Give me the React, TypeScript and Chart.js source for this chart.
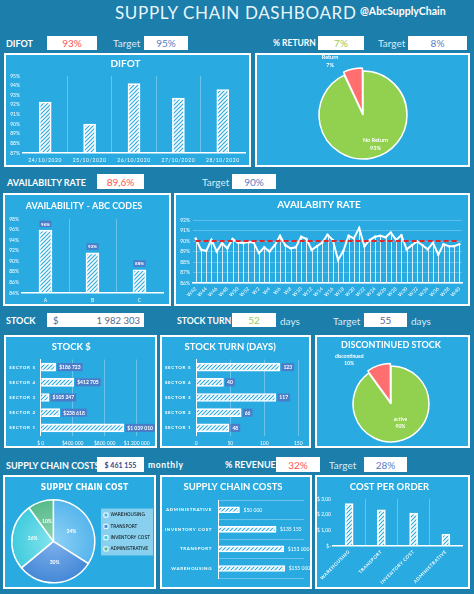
import React, { useEffect, useRef } from 'react';
import { Chart, registerables } from 'chart.js';
Chart.register(...registerables);

const BG = '#1C7EAB';
const PANEL = '#29AAE1';
const FONT = 'Lato, "Open Sans", sans-serif';
const NARROW = '"Liberation Sans Narrow", "DejaVu Sans Condensed", sans-serif';
const GRID = 'rgba(255,255,255,0.3)';
const LABEL_BOX = '#4A7CC8';

// ---------- data ----------
const difotDates = ['24/10/2020', '25/10/2020', '26/10/2020', '27/10/2020', '28/10/2020'];
const difotValues = [92.3, 90.0, 94.2, 92.7, 93.6];

const returnLabels = ['No Return', 'Return'];
const returnShares = [93, 7];

const abcCodes = ['A', 'B', 'C'];
const abcAvailability = [95.9, 91.6, 88.4];

const weeks = ['W42', 'W43', 'W44', 'W45', 'W46', 'W47', 'W48', 'W49', 'W50', 'W51', 'W52', 'W1', 'W2', 'W3', 'W4', 'W5', 'W6', 'W7', 'W8', 'W9', 'W10', 'W11', 'W12', 'W13', 'W14', 'W15', 'W16', 'W17', 'W18', 'W19', 'W20', 'W21', 'W22', 'W23', 'W24', 'W25', 'W26', 'W27', 'W28', 'W29', 'W30', 'W31', 'W32', 'W33', 'W34', 'W35', 'W36', 'W37', 'W38', 'W39', 'W40'];
const weeklyAvailability = [90.25, 89.2, 89.05, 90.1, 89.0, 89.8, 89.3, 90.2, 89.85, 89.8, 89.9, 89.85, 88.85, 89.4, 89.0, 89.6, 90.5, 89.6, 89.3, 89.4, 90.4, 90.2, 89.15, 89.5, 89.85, 90.6, 90.1, 88.2, 89.05, 90.5, 90.25, 91.25, 89.5, 90.1, 90.4, 90.5, 90.35, 90.8, 90.1, 90.55, 89.2, 89.6, 89.95, 89.6, 89.2, 89.85, 88.7, 89.7, 89.5, 89.5, 89.7];
const availabilityTarget = 90;

const sectors = ['SECTOR 5', 'SECTOR 4', 'SECTOR 3', 'SECTOR 2', 'SECTOR 1'];
const stockValue = [186723, 412705, 105247, 238618, 1039010];
const stockTurnDays = [123, 40, 117, 66, 48];

const stockStatus = ['active', 'discontinued'];
const stockStatusShares = [90, 10];

const costTypes = ['WAREHOUSING', 'TRANSPORT', 'INVENTORY COST', 'ADMINISTRATIVE'];
const costShares = [34, 30, 26, 10];
const costBarTypes = ['ADMINISTRATIVE', 'INVENTORY COST', 'TRANSPORT', 'WAREHOUSING'];
const costBarValues = [50000, 135155, 153000, 155000];
const costPerOrder = [2.7, 2.31, 2.1, 0.75];

const costColors = ['#55B4EC', '#4588D6', '#3FCBDD', '#55BA8A'];
const costColorsLight = ['#8FD2F6', '#7DB0EC', '#86E4EE', '#8ED6B2'];

// ---------- helpers ----------
Chart.defaults.font.family = FONT;
Chart.defaults.color = '#fff';

const sp = (n: number) => String(Math.round(n)).replace(/\B(?=(\d{3})+(?!\d))/g, ' ');

function hatch(): CanvasPattern {
  const c = document.createElement('canvas');
  c.width = 4;
  c.height = 4;
  const g = c.getContext('2d')!;
  g.strokeStyle = '#ffffff';
  g.lineWidth = 1.7;
  g.beginPath();
  g.moveTo(0, 4); g.lineTo(4, 0);
  g.moveTo(-1, 1); g.lineTo(1, -1);
  g.moveTo(3, 5); g.lineTo(5, 3);
  g.stroke();
  return g.createPattern(c, 'repeat')!;
}

const tf = (size = 5, bold = false) => ({ size, family: FONT, weight: bold ? 'bold' : 'normal' });
const titleOpt = (text: string, size: number, top: number, bottom: number, family = FONT) => ({
  display: true, text, color: '#fff', font: { size, weight: 'bold', family }, padding: { top, bottom },
});
const basePlugins = (title: any) => ({ legend: { display: false }, tooltip: { enabled: false }, title });
const catGrid = (edges = false) => ({
  display: true, offset: true, drawTicks: false, lineWidth: 1,
  color: (c: any) => (!edges && (c.index === undefined || c.index === 0) ? 'rgba(0,0,0,0)' : GRID),
});

const spacedLabels = (axis: string, spacing: string) => ({
  id: 'spacedLabels_' + axis,
  beforeDraw(chart: any) {
    const s = chart.scales[axis];
    if (!s || s.__spaced) return;
    const orig = s.drawLabels.bind(s);
    s.drawLabels = (area: any) => {
      const ctx = chart.ctx;
      ctx.save();
      ctx.letterSpacing = spacing;
      orig(area);
      ctx.restore();
    };
    s.__spaced = true;
  },
});

const valueLabels = (o: { fmt: (v: number) => string; mode: 'top' | 'right'; box: string | null; size: number; gap: number; padX?: number; padY?: number; bold?: boolean }) => ({
  id: 'valueLabels',
  afterDatasetsDraw(chart: any) {
    const ctx = chart.ctx;
    const meta = chart.getDatasetMeta(0);
    const data = chart.data.datasets[0].data as number[];
    const padX = o.padX ?? 2;
    const h = o.size + 2 * (o.padY ?? 1.5);
    ctx.save();
    ctx.font = `${o.bold === false ? 'normal' : 'bold'} ${o.size}px ${FONT}`;
    ctx.textBaseline = 'middle';
    ctx.textAlign = 'center';
    meta.data.forEach((el: any, i: number) => {
      const t = o.fmt(data[i]);
      const w = ctx.measureText(t).width;
      let cx: number, cy: number;
      if (o.mode === 'top') { cx = el.x; cy = el.y - o.gap - h / 2; }
      else { cx = el.x + o.gap + padX + w / 2; cy = el.y; }
      if (o.box) {
        ctx.fillStyle = o.box;
        ctx.fillRect(cx - w / 2 - padX, cy - h / 2, w + 2 * padX, h);
      }
      ctx.fillStyle = '#fff';
      ctx.fillText(t, cx, cy + 0.3);
    });
    ctx.restore();
  },
});

type PieSpec = { lines: string[]; out?: boolean; rot?: number; k: number; dx?: number; dy?: number };
const pieLabels = (spec: (i: number, label: string, v: number) => PieSpec, size: number) => ({
  id: 'pieLabels',
  afterDatasetsDraw(chart: any) {
    const ctx = chart.ctx;
    const meta = chart.getDatasetMeta(0);
    const data = chart.data.datasets[0].data as number[];
    ctx.save();
    ctx.font = `bold ${size}px ${FONT}`;
    ctx.fillStyle = '#fff';
    ctx.textAlign = 'center';
    ctx.textBaseline = 'middle';
    meta.data.forEach((el: any, i: number) => {
      const p = el.getProps(['x', 'y', 'startAngle', 'endAngle', 'outerRadius'], true);
      const mid = (p.startAngle + p.endAngle) / 2;
      const s = spec(i, chart.data.labels[i], data[i]);
      const ang = mid + (s.rot ?? 0);
      const dist = s.out ? p.outerRadius + s.k : p.outerRadius * s.k;
      const cx = p.x + Math.cos(ang) * dist + (s.dx ?? 0);
      const cy = p.y + Math.sin(ang) * dist + (s.dy ?? 0);
      s.lines.forEach((t, j) => ctx.fillText(t, cx, cy + (j - (s.lines.length - 1) / 2) * (size + 2)));
    });
    ctx.restore();
  },
});

const dropLines = (dsIndex: number) => ({
  id: 'dropLines',
  beforeDatasetsDraw(chart: any) {
    const meta = chart.getDatasetMeta(dsIndex);
    const { ctx, chartArea } = chart;
    ctx.save();
    ctx.strokeStyle = 'rgba(255,255,255,0.8)';
    ctx.lineWidth = 1;
    meta.data.forEach((pt: any) => {
      const x = Math.round(pt.x) + 0.5;
      ctx.beginPath();
      ctx.moveTo(x, pt.y);
      ctx.lineTo(x, chartArea.bottom);
      ctx.stroke();
    });
    ctx.restore();
  },
});

const legendBg = {
  id: 'legendBg',
  beforeDraw(chart: any) {
    const lg = chart.legend;
    if (!lg || !lg.legendHitBoxes || !lg.legendHitBoxes.length) return;
    const hb = lg.legendHitBoxes;
    const x0 = Math.min(...hb.map((h: any) => h.left)) - 3;
    const x1 = Math.max(...hb.map((h: any) => h.left + h.width)) + 3;
    const y0 = hb[0].top - 4;
    const y1 = hb[hb.length - 1].top + hb[hb.length - 1].height + 4;
    const ctx = chart.ctx;
    ctx.save();
    ctx.fillStyle = 'rgba(255,255,255,0.45)';
    ctx.fillRect(x0, y0, x1 - x0, y1 - y0);
    ctx.restore();
  },
};

// ---------- chart configs ----------
const difotConfig = (): any => ({
  type: 'bar',
  data: { labels: difotDates, datasets: [{ data: difotValues, backgroundColor: hatch(), borderColor: '#fff', borderWidth: 1, barThickness: 12 }] },
  options: {
    responsive: false, animation: false,
    layout: { padding: { left: 0, right: 4, top: 0, bottom: 0 } },
    plugins: basePlugins(titleOpt('DIFOT', 10, 3, 6)),
    scales: {
      x: { grid: catGrid(), border: { color: '#fff', width: 1.5 }, ticks: { color: '#fff', font: tf(5), padding: 4, maxRotation: 0, autoSkip: false }, afterFit: (s: any) => { s.height = 12; } },
      y: { min: 87, max: 95, grid: { display: false, drawTicks: false }, border: { display: false }, ticks: { stepSize: 1, color: '#fff', font: tf(5), padding: 3, callback: (v: any) => v + '%' }, afterFit: (s: any) => { s.width = 17; } },
    },
  },
  plugins: [spacedLabels('x', '0.6px')],
});

const returnConfig = (): any => ({
  type: 'pie',
  data: { labels: returnLabels, datasets: [{ data: returnShares, backgroundColor: ['#92D050', '#FF6F6F'], borderColor: '#fff', borderWidth: 1.5, offset: [0, 8] }] },
  options: {
    responsive: false, animation: false, radius: 44,
    layout: { padding: { left: 1, right: 0, top: 10, bottom: 0 } },
    plugins: basePlugins({ display: false }),
  },
  plugins: [pieLabels((i, l, v) => (i === 1
    ? { lines: [l, v + '%'], out: true, k: 19, rot: -0.33 }
    : { lines: [l, v + '%'], k: 0.68, dx: 6 }), 5.5)],
});

const abcConfig = (): any => ({
  type: 'bar',
  data: { labels: abcCodes, datasets: [{ data: abcAvailability, backgroundColor: hatch(), borderColor: '#fff', borderWidth: 1, barThickness: 13 }] },
  options: {
    responsive: false, animation: false,
    layout: { padding: { right: 6 } },
    plugins: basePlugins(titleOpt('AVAILABILITY - ABC CODES', 9, 5.5, 7.7)),
    scales: {
      x: { grid: catGrid(), border: { color: '#fff', width: 1.5 }, ticks: { color: '#fff', font: tf(5), padding: 4 }, afterFit: (s: any) => { s.height = 11; } },
      y: { min: 84, max: 98, grid: { display: false, drawTicks: false }, border: { display: false }, ticks: { stepSize: 2, color: '#fff', font: tf(5), padding: 3, callback: (v: any) => v + '%' }, afterFit: (s: any) => { s.width = 17; } },
    },
  },
  plugins: [valueLabels({ fmt: (v) => Math.round(v) + '%', mode: 'top', box: LABEL_BOX, size: 4.5, gap: 3, padX: 1.5, padY: 1 })],
});

const availConfig = (): any => ({
  type: 'line',
  data: {
    labels: weeks,
    datasets: [
      { data: weeks.map(() => availabilityTarget), borderColor: '#E3262B', borderDash: [5, 3], borderWidth: 2, pointRadius: 0 },
      { data: weeklyAvailability, borderColor: '#fff', borderWidth: 2, pointRadius: 1.2, pointBackgroundColor: '#fff', pointBorderWidth: 0, tension: 0 },
    ],
  },
  options: {
    responsive: false, animation: false,
    layout: { padding: { right: 6 } },
    plugins: basePlugins(titleOpt('AVAILABITY RATE', 10, 4, 9)),
    scales: {
      x: {
        offset: true, grid: { display: false, drawTicks: false }, border: { color: '#fff', width: 1.5 },
        ticks: {
          color: '#fff', font: tf(5), padding: 3, autoSkip: false, minRotation: 45, maxRotation: 45,
          callback: function (this: any, v: any, i: number) { return i % 2 === 0 ? this.getLabelForValue(v) : ''; },
        },
        afterFit: (s: any) => { s.height = 21; },
      },
      y: { min: 86, max: 92, grid: { color: 'rgba(255,255,255,0.25)', drawTicks: false }, border: { display: false }, ticks: { stepSize: 1, color: '#fff', font: tf(5), padding: 3, callback: (v: any) => v + '%' }, afterFit: (s: any) => { s.width = 17; } },
    },
  },
  plugins: [dropLines(1)],
});

const hbarConfig = (title: string, values: number[], max: number, step: number, tick: (v: number) => string, label: (v: number) => string, rightPad: number, yWidth: number): any => ({
  type: 'bar',
  data: { labels: sectors, datasets: [{ data: values, backgroundColor: hatch(), borderColor: '#fff', borderWidth: 1, barThickness: 8 }] },
  options: {
    responsive: false, animation: false, indexAxis: 'y',
    layout: { padding: { right: rightPad } },
    plugins: basePlugins(titleOpt(title, 9.5, 4.3, 6.8)),
    scales: {
      x: { min: 0, max, grid: { color: GRID, drawTicks: false }, border: { display: false }, ticks: { stepSize: step, color: '#fff', font: tf(5), padding: 4.5, callback: (v: any) => tick(v) }, afterFit: (s: any) => { s.height = 10.5; } },
      y: { grid: { display: false, drawTicks: false }, border: { color: '#fff', width: 1 }, ticks: { color: '#fff', font: tf(4.5, true), padding: 5 }, afterFit: (s: any) => { s.width = yWidth; } },
    },
  },
  plugins: [spacedLabels('y', '0.7px'), valueLabels({ fmt: label, mode: 'right', box: LABEL_BOX, size: 5, gap: 1.5, padX: 2, padY: 1.5 })],
});

const discConfig = (): any => ({
  type: 'pie',
  data: { labels: stockStatus, datasets: [{ data: stockStatusShares, backgroundColor: ['#92D050', '#FF6F6F'], borderColor: '#fff', borderWidth: 1.5, offset: [0, 7] }] },
  options: {
    responsive: false, animation: false, radius: 38,
    layout: { padding: { left: 0, right: 3, top: 0, bottom: 0 } },
    plugins: basePlugins(titleOpt('DISCONTINUED STOCK', 9, 3, 11)),
  },
  plugins: [pieLabels((i, l, v) => (i === 1
    ? { lines: [l, v + '%'], out: true, k: 23, rot: -0.44 }
    : { lines: [l, v + '%'], k: 0.55, dx: 3, dy: -1 }), 5)],
});

const sliceFill = (ctx: any) => {
  const chart = ctx.chart;
  const a = chart.chartArea;
  const i = ctx.dataIndex;
  if (!a || i === undefined) return costColors[i ?? 0];
  const cx = (a.left + a.right) / 2;
  const cy = (a.top + a.bottom) / 2;
  const g = chart.ctx.createRadialGradient(cx, cy, 0, cx, cy, 42);
  g.addColorStop(0, costColorsLight[i]);
  g.addColorStop(1, costColors[i]);
  return g;
};

const costPieConfig = (): any => ({
  type: 'pie',
  data: { labels: costTypes, datasets: [{ data: costShares, backgroundColor: sliceFill, borderColor: '#fff', borderWidth: 1.5 }] },
  options: {
    responsive: false, animation: false, radius: 41.5,
    layout: { padding: { left: 4, right: -6, top: 0, bottom: 0 } },
    plugins: {
      tooltip: { enabled: false },
      title: titleOpt('SUPPLY CHAIN COST', 8.5, 5.5, 3, NARROW),
      legend: {
        display: true, position: 'right',
        labels: {
          boxWidth: 4, boxHeight: 4, padding: 6.3, color: '#24507E', font: { size: 5, weight: 'normal', family: NARROW },
          generateLabels: (chart: any) => chart.data.labels.map((l: string, i: number) => ({ text: l, fillStyle: costColors[i], strokeStyle: '#fff', lineWidth: 1, index: i, hidden: false })),
        },
      },
    },
  },
  plugins: [legendBg, pieLabels((i, l, v) => ({ lines: [v + '%'], k: 0.5 }), 5)],
});

const costBarConfig = (): any => ({
  type: 'bar',
  data: { labels: costBarTypes, datasets: [{ data: costBarValues, backgroundColor: hatch(), borderColor: '#fff', borderWidth: 1, barThickness: 6 }] },
  options: {
    responsive: false, animation: false, indexAxis: 'y',
    layout: { padding: { right: 6, bottom: 5 } },
    plugins: basePlugins(titleOpt('SUPPLY CHAIN COSTS', 9.5, 4.3, 7.3)),
    scales: {
      x: { display: false, min: 0, max: 200000 },
      y: { grid: catGrid(true), border: { color: '#fff', width: 1 }, ticks: { color: '#fff', font: tf(4.5, true), padding: 6 }, afterFit: (s: any) => { s.width = 56; } },
    },
  },
  plugins: [spacedLabels('y', '0.6px'), valueLabels({ fmt: (v) => '$' + sp(v), mode: 'right', box: null, size: 5, gap: 4, padX: 0, bold: false })],
});

const cpoConfig = (): any => ({
  type: 'bar',
  data: { labels: costTypes, datasets: [{ data: costPerOrder, backgroundColor: hatch(), borderColor: '#fff', borderWidth: 1, barThickness: 8 }] },
  options: {
    responsive: false, animation: false,
    layout: { padding: { right: 6 } },
    plugins: basePlugins(titleOpt('COST PER ORDER', 9.5, 4.3, 6.3)),
    scales: {
      x: { grid: catGrid(), border: { color: '#fff', width: 1.5 }, ticks: { color: '#fff', font: tf(4.5, true), padding: 3, minRotation: 45, maxRotation: 45, autoSkip: false }, afterFit: (s: any) => { s.height = 41; } },
      y: { min: 0, max: 3, grid: { display: false, drawTicks: false }, border: { display: false }, ticks: { stepSize: 0.5, color: '#fff', font: tf(5), padding: 2, callback: (v: any) => (v === 0 ? '$-' : '$ ' + Number(v).toFixed(2).replace('.', ',')) }, afterFit: (s: any) => { s.width = 16; } },
    },
  },
  plugins: [spacedLabels('x', '0.5px')],
});

// ---------- components ----------
function Panel({ x, y, w, h, make }: { x: number; y: number; w: number; h: number; make: () => any }) {
  const ref = useRef<HTMLCanvasElement | null>(null);
  useEffect(() => {
    const chart = new Chart(ref.current!, make());
    return () => chart.destroy();
  }, []);
  return (
    <div style={{ position: 'absolute', left: x, top: y, width: w, height: h, boxSizing: 'border-box', border: '2px solid #fff', background: PANEL }}>
      <canvas ref={ref} width={w - 4} height={h - 4} style={{ display: 'block', width: w - 4, height: h - 4 }} />
    </div>
  );
}

function Txt({ x, cy, s, b, c, children, ff, ls }: { x: number; cy: number; s: number; b?: boolean; c?: string; children: any; ff?: string; ls?: number }) {
  return (
    <div style={{ position: 'absolute', left: x, top: cy - 8, height: 16, display: 'flex', alignItems: 'center', fontSize: s, fontWeight: b ? 700 : 400, color: c ?? '#fff', whiteSpace: 'nowrap', fontFamily: ff ?? FONT, letterSpacing: ls ?? 0 }}>
      {children}
    </div>
  );
}

function Box({ x, y, w, h, c, s, b, children, justify }: { x: number; y: number; w: number; h: number; c: string; s: number; b?: boolean; children: any; justify?: string }) {
  return (
    <div style={{ position: 'absolute', left: x, top: y, width: w, height: h, background: '#fff', color: c, fontSize: s, fontWeight: b ? 700 : 400, display: 'flex', alignItems: 'center', justifyContent: justify ?? 'center', fontFamily: FONT, whiteSpace: 'nowrap', boxSizing: 'border-box' }}>
      {children}
    </div>
  );
}

const RED = '#FF5252';
const BLUE = '#5A7CC4';
const GREEN = '#9BC95A';
const SLATE = '#56688A';
const TGT = '#D6ECF8';

export default function App() {
  return (
    <div style={{ position: 'absolute', left: 0, top: 0, width: 474, height: 594, background: BG, overflow: 'hidden', fontFamily: FONT }}>
      <Txt x={115} cy={12} s={17} c="#EAF6FC" ls={0.65}>SUPPLY CHAIN DASHBOARD</Txt>
      <Txt x={360} cy={11} s={10.5} b>@AbcSupplyChain</Txt>

      {/* row 1 */}
      <Txt x={6} cy={43} s={9} b>DIFOT</Txt>
      <Box x={47} y={36} w={50} h={14} c={RED} s={10}>93%</Box>
      <Txt x={113} cy={43} s={10} c={TGT}>Target</Txt>
      <Box x={144} y={36} w={44} h={14} c={BLUE} s={10}>95%</Box>
      <Txt x={273} cy={43} s={8.5} b>% RETURN</Txt>
      <Box x={318} y={36} w={46} h={14} c={GREEN} s={10}>7%</Box>
      <Txt x={378} cy={43} s={10} c={TGT}>Target</Txt>
      <Box x={408} y={36} w={59} h={14} c={BLUE} s={10}>8%</Box>

      <Panel x={4} y={53} w={247} h={114} make={difotConfig} />
      <Panel x={255} y={53} w={215} h={114} make={returnConfig} />

      {/* row 2 */}
      <Txt x={7} cy={182} s={9} b>AVAILABILTY RATE</Txt>
      <Box x={97} y={174} w={47} h={15} c={RED} s={10}>89,6%</Box>
      <Txt x={202} cy={182} s={10} c={TGT}>Target</Txt>
      <Box x={232} y={174} w={44} h={15} c={BLUE} s={10}>90%</Box>

      <Panel x={3} y={193} w={168} h={113} make={abcConfig} />
      <Panel x={174} y={193} w={296} h={113} make={availConfig} />

      {/* row 3 */}
      <Txt x={6} cy={320} s={9} b>STOCK</Txt>
      <Box x={47} y={313} w={97} h={14} c={SLATE} s={9.5} justify="space-between">
        <span style={{ paddingLeft: 6 }}>$</span>
        <span style={{ paddingRight: 4 }}>1 982 303</span>
      </Box>
      <Txt x={177} cy={320} s={8.7} b>STOCK TURN</Txt>
      <Box x={232} y={313} w={44} h={14} c={GREEN} s={10}>52</Box>
      <Txt x={280} cy={321} s={10} c={TGT}>days</Txt>
      <Txt x={333} cy={321} s={10} c={TGT}>Target</Txt>
      <Box x={364} y={313} w={43} h={14} c={SLATE} s={10}>55</Box>
      <Txt x={411} cy={321} s={10} c={TGT}>days</Txt>

      <Panel x={4} y={335} w={153} h={113} make={() => hbarConfig('STOCK $', stockValue, 1200000, 400000, (v) => (v === 0 ? '$ 0' : '$' + sp(v)), (v) => '$' + sp(v), 18.3, 34.7)} />
      <Panel x={160} y={335} w={151} h={113} make={() => hbarConfig('STOCK TURN (DAYS)', stockTurnDays, 150, 50, (v) => String(v), (v) => String(v), 10.7, 34.3)} />
      <Panel x={315} y={335} w={155} h={113} make={discConfig} />

      {/* row 4 */}
      <Txt x={6} cy={465} s={9} b>SUPPLY CHAIN COSTS</Txt>
      <Box x={97} y={457} w={47} h={15} c="#2A4A8E" s={7} b>$ 461 155</Box>
      <Txt x={148} cy={465} s={8.5} b ls={0.6}>monthly</Txt>
      <Txt x={225} cy={464} s={9} b>% REVENUE</Txt>
      <Box x={276} y={457} w={44} h={15} c={RED} s={10}>32%</Box>
      <Txt x={329} cy={465} s={10} c={TGT}>Target</Txt>
      <Box x={364} y={457} w={43} h={15} c={BLUE} s={10}>28%</Box>

      <Panel x={3} y={475} w={153} h={114} make={costPieConfig} />
      <Panel x={160} y={475} w={152} h={114} make={costBarConfig} />
      <Panel x={315} y={475} w={155} h={114} make={cpoConfig} />
    </div>
  );
}
